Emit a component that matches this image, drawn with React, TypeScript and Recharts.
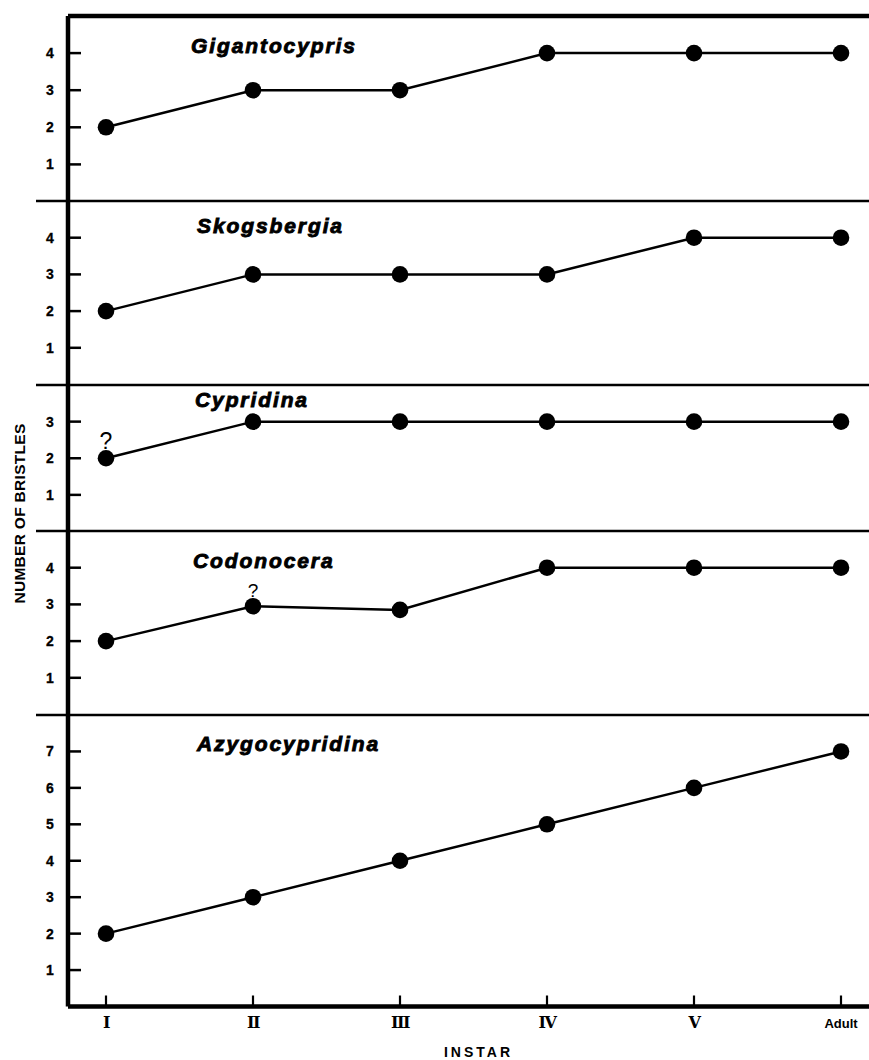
import React from "react";
import { LineChart, Line, XAxis, YAxis, ReferenceLine, LabelList } from "recharts";

// ---- data ----
const instars = ["I", "II", "III", "IV", "V", "Adult"];
const gigantocypris = [2, 3, 3, 4, 4, 4];
const skogsbergia = [2, 3, 3, 3, 4, 4];
const cypridina = [2, 3, 3, 3, 3, 3];
const codonocera = [2, 2.95, 2.85, 4, 4, 4];
const azygocypridina = [2, 3, 4, 5, 6, 7];
const cypridinaNotes = ["?", "", "", "", "", ""];
const codonoceraNotes = ["", "?", "", "", "", ""];
const ticksFour = [1, 2, 3, 4];
const ticksThree = [1, 2, 3];
const ticksSeven = [1, 2, 3, 4, 5, 6, 7];
const yAxisTitle = "NUMBER OF BRISTLES";
const xAxisTitle = "INSTAR";

// ---- layout ----
const W = 869;
const AXIS_W = 68;
const PAD = 6;
const BOTTOM_EXTRA = 54;
const X_AXIS_H = 30;
const SANS = "'Liberation Sans', Arial, Helvetica, sans-serif";

type Panel = {
  name: string;
  values: number[];
  notes: string[] | null;
  noteSize: number;
  max: number;
  ticks: number[];
  top: number;
  bottom: number;
  titleX: number;
  titleDy: number;
  first?: boolean;
  last?: boolean;
  yLabel?: boolean;
};

const panels: Panel[] = [
  { name: "Gigantocypris", values: gigantocypris, notes: null, noteSize: 20, max: 5, ticks: ticksFour, top: 15.5, bottom: 201, titleX: 191, titleDy: 37, first: true },
  { name: "Skogsbergia", values: skogsbergia, notes: null, noteSize: 20, max: 5, ticks: ticksFour, top: 201, bottom: 384.5, titleX: 197, titleDy: 32 },
  { name: "Cypridina", values: cypridina, notes: cypridinaNotes, noteSize: 23, max: 4, ticks: ticksThree, top: 384.5, bottom: 531, titleX: 195, titleDy: 22, yLabel: true },
  { name: "Codonocera", values: codonocera, notes: codonoceraNotes, noteSize: 19, max: 5, ticks: ticksFour, top: 531, bottom: 714.5, titleX: 193, titleDy: 37 },
  { name: "Azygocypridina", values: azygocypridina, notes: null, noteSize: 20, max: 8, ticks: ticksSeven, top: 714.5, bottom: 1006, titleX: 197, titleDy: 36, last: true },
];

const YTick = (props: any) => {
  const { x, y, payload } = props;
  return (
    <g>
      <line x1={x} x2={x + 13} y1={y} y2={y} stroke="#000" strokeWidth={2.5} />
      <text x={x - 18} y={y} dy={5} textAnchor="middle" fontSize={14} fontWeight="bold" fontFamily={SANS} fill="#000" stroke="#000" strokeWidth={0.3}>
        {payload.value}
      </text>
    </g>
  );
};

const XTick = (props: any) => {
  const { x, y, payload } = props;
  const roman = payload.value !== "Adult";
  return (
    <g>
      <line x1={x} x2={x} y1={y} y2={y - 11} stroke="#000" strokeWidth={2.2} />
      <text
        x={x}
        y={y + 21}
        textAnchor="middle"
        fontSize={roman ? 16 : 13}
        fontWeight="bold"
        fontFamily={roman ? "'DejaVu Serif', 'Liberation Serif', serif" : SANS}
        letterSpacing={roman ? -1.5 : 0}
        fill="#000"
      >
        {payload.value}
      </text>
    </g>
  );
};

const NoteLabel = (size: number) => (props: any) => {
  const { x, y, value } = props;
  if (!value) return null;
  return (
    <text x={x} y={y - 9} textAnchor="middle" fontSize={size} fontFamily={SANS} fill="#000">
      {value}
    </text>
  );
};

const PanelChart = ({ p }: { p: Panel }) => {
  const data = instars.map((instar, i) => ({
    instar,
    value: p.values[i],
    note: p.notes ? p.notes[i] : "",
  }));
  const plotH = p.bottom - p.top;
  const bottomMargin = p.last ? BOTTOM_EXTRA - X_AXIS_H : PAD;
  const height = PAD + plotH + (p.last ? BOTTOM_EXTRA : PAD);
  return (
    <div style={{ position: "absolute", left: 0, top: p.top - PAD, width: W, height }}>
      <LineChart width={W} height={height} data={data} margin={{ top: PAD, right: 0, bottom: bottomMargin, left: 0 }}>
        <XAxis
          dataKey="instar"
          type="category"
          scale="point"
          padding={{ left: 38, right: 28 }}
          hide={!p.last}
          height={X_AXIS_H}
          interval={0}
          tickLine={false}
          tickSize={0}
          tickMargin={0}
          axisLine={{ stroke: "#000", strokeWidth: 4.5 }}
          tick={<XTick />}
          label={
            p.last
              ? (lp: any) => {
                  const vb = lp.viewBox || { x: AXIS_W, y: 1006, width: W - AXIS_W };
                  return (
                    <text x={vb.x + vb.width / 2 + 10} y={vb.y + 50} textAnchor="middle" fontSize={14} fontWeight="bold" fontFamily={SANS} letterSpacing={3} fill="#000">
                      {xAxisTitle}
                    </text>
                  );
                }
              : undefined
          }
        />
        <YAxis
          type="number"
          domain={[0, p.max]}
          ticks={p.ticks}
          interval={0}
          width={AXIS_W}
          tickLine={false}
          tickSize={0}
          tickMargin={0}
          axisLine={{ stroke: "#000", strokeWidth: 4.5 }}
          tick={<YTick />}
          label={
            p.yLabel
              ? (lp: any) => {
                  const vb = lp.viewBox || { x: 0, y: p.top, width: AXIS_W, height: plotH };
                  const cx = vb.x + 19;
                  const cy = vb.y + vb.height - 18;
                  return (
                    <text x={cx} y={cy} transform={`rotate(-90, ${cx}, ${cy})`} textAnchor="middle" dominantBaseline="central" fontSize={15.5} fontWeight="bold" fontFamily={SANS} letterSpacing={0.3} fill="#000">
                      {yAxisTitle}
                    </text>
                  );
                }
              : undefined
          }
        />
        {p.first ? (
          <ReferenceLine y={p.max} stroke="#000" strokeWidth={4.5} />
        ) : (
          <ReferenceLine
            y={p.max}
            stroke="#000"
            strokeWidth={2.5}
            shape={(sp: any) => (
              <line x1={36} x2={sp.x2 ?? W} y1={sp.y1} y2={sp.y2} stroke="#000" strokeWidth={2.5} />
            )}
          />
        )}
        <Line
          type="linear"
          dataKey="value"
          stroke="#000"
          strokeWidth={2.5}
          dot={{ r: 8.3, fill: "#000", stroke: "#000", strokeWidth: 0 }}
          activeDot={false}
          isAnimationActive={false}
        >
          {p.notes ? <LabelList dataKey="note" content={NoteLabel(p.noteSize)} /> : null}
        </Line>
        <text
          x={p.titleX}
          y={PAD + p.titleDy}
          fontSize={21}
          fontWeight="bold"
          fontStyle="italic"
          fontFamily={SANS}
          letterSpacing={1.9}
          fill="#000"
          stroke="#000"
          strokeWidth={0.9}
        >
          {p.name}
        </text>
      </LineChart>
    </div>
  );
}

export default function App() {
  return (
    <div style={{ position: "absolute", left: 0, top: 0, width: W, height: 1060, background: "#fff" }}>
      <style>{`.recharts-surface { overflow: visible; } .recharts-wrapper { overflow: visible; }`}</style>
      {panels.map((p) => (
        <PanelChart key={p.name} p={p} />
      ))}
    </div>
  );
}
